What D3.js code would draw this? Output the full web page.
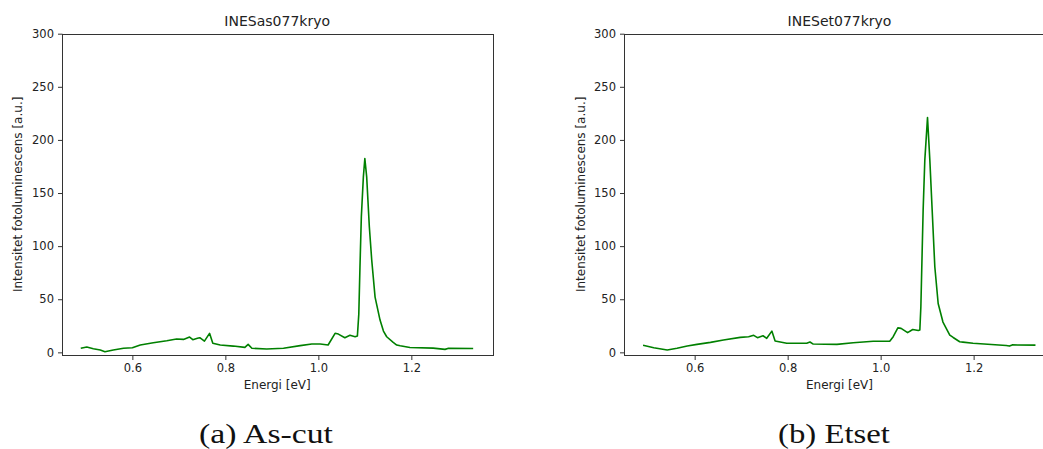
<!DOCTYPE html>
<html>
<head>
<meta charset="utf-8">
<script src="https://cdn.jsdelivr.net/npm/d3@7"></script>
<style>
  html, body { margin: 0; padding: 0; background: #fff; }
  svg { display: block; }
  text { font-family: "DejaVu Sans", sans-serif; fill: #222; }
</style>
</head>
<body>
<svg id="chart" width="1043" height="449"></svg>
<script>
// ---- data ----
const asCutEnergy = [0.489,0.502,0.516,0.531,0.541,0.559,0.581,0.600,0.617,0.645,0.674,0.695,0.710,0.723,0.730,0.740,0.745,0.755,0.766,0.773,0.789,0.817,0.842,0.849,0.857,0.889,0.925,0.961,0.986,1.004,1.021,1.036,1.043,1.057,1.068,1.079,1.084,1.087,1.0895,1.0925,1.0968,1.100,1.104,1.1097,1.1148,1.122,1.1327,1.140,1.147,1.161,1.1686,1.176,1.197,1.247,1.2725,1.280,1.333];
const asCutIntensity = [3.8,5.0,3.4,2.2,0.6,2.2,3.8,4.3,6.9,9.0,10.9,12.5,12.2,14.4,11.9,13.2,13.8,10.6,17.9,8.5,6.9,5.9,4.7,7.5,3.8,3.1,3.8,6.3,7.8,7.8,6.9,17.9,17.2,13.8,16.0,14.7,15.5,36,80,128,165,182.5,165,118,86.9,52,30.4,20,14.7,9.4,6.9,6.2,4.5,4.0,2.8,3.8,3.6];

const etsetEnergy = [0.489,0.512,0.541,0.562,0.584,0.605,0.634,0.662,0.698,0.716,0.727,0.735,0.747,0.755,0.766,0.773,0.798,0.841,0.848,0.855,0.906,0.941,0.984,1.020,1.027,1.037,1.044,1.058,1.069,1.081,1.0843,1.0865,1.088,1.0914,1.095,1.1008,1.1058,1.1108,1.1165,1.1237,1.134,1.1487,1.156,1.170,1.177,1.1987,1.270,1.277,1.283,1.333];
const etsetIntensity = [6.6,4.3,2.2,3.8,5.9,7.5,9.4,11.6,14.1,14.7,16.0,13.8,15.6,13.2,20.0,10.6,8.5,8.5,9.7,7.8,7.5,9.0,10.4,10.6,14.7,23.0,22.6,18.5,21.5,20.5,21,42.9,71,134,181,221,181,134,80.6,46,28.5,16.3,14.0,10,9.6,8.5,6.5,5.9,7.0,6.8];

const xTicks = [0.6, 0.8, 1.0, 1.2];
const yTicks = [0, 50, 100, 150, 200, 250, 300];
const titles = ["INESas077kryo", "INESet077kryo"];
const captions = ["(a) As-cut", "(b) Etset"];
const xLabel = "Energi [eV]";
const yLabel = "Intensitet fotoluminescens [a.u.]";
const xDomain = [0.448, 1.375];
const yDomain = [-2.5, 300];

// ---- drawing ----
const svg = d3.select("#chart");
const plotTop = 33.7, plotBottom = 355, plotWidth = 431;

function panel(left, title, E, I, ylabelX) {
  const g = svg.append("g");
  const x = d3.scaleLinear().domain(xDomain).range([left, left + plotWidth]);
  const y = d3.scaleLinear().domain(yDomain).range([plotBottom, plotTop]);

  const pts = E.map((e, i) => [e, I[i]]);
  g.append("path")
    .datum(pts)
    .attr("fill", "none")
    .attr("stroke", "#008000")
    .attr("stroke-width", 1.6)
    .attr("stroke-linejoin", "round")
    .attr("d", d3.line().x(d => x(d[0])).y(d => y(d[1])));

  g.append("rect")
    .attr("x", Math.round(left) + 0.5).attr("y", Math.round(plotTop) + 0.5)
    .attr("width", Math.round(plotWidth)).attr("height", Math.round(plotBottom - plotTop))
    .attr("fill", "none").attr("stroke", "#333").attr("stroke-width", 1);

  const xAxis = d3.axisBottom(x).tickValues(xTicks).tickFormat(d3.format(".1f")).tickSizeOuter(0).tickSize(4.5).tickPadding(4);
  const gx = g.append("g").attr("transform", `translate(0,${Math.round(plotBottom) + 0.5})`).call(xAxis);
  const yAxis = d3.axisLeft(y).tickValues(yTicks).tickSizeOuter(0).tickSize(4.5).tickPadding(4);
  const gy = g.append("g").attr("transform", `translate(${Math.round(left) + 0.5},0)`).call(yAxis);
  [gx, gy].forEach(a => {
    a.select(".domain").remove();
    a.selectAll(".tick line").attr("stroke", "#333");
    a.selectAll(".tick text").attr("fill", "#222").style("font-size", "11.5px").style("font-family", "DejaVu Sans");
  });

  g.append("text").attr("x", left + plotWidth / 2).attr("y", 25.5)
    .attr("text-anchor", "middle").style("font-size", "14px").text(title);
  g.append("text").attr("x", left + plotWidth / 2).attr("y", 389)
    .attr("text-anchor", "middle").style("font-size", "12px").text(xLabel);
  g.append("text")
    .attr("transform", `translate(${ylabelX},${(plotTop + plotBottom) / 2}) rotate(-90)`)
    .attr("text-anchor", "middle").style("font-size", "12px").text(yLabel);
}

panel(61.7, titles[0], asCutEnergy, asCutIntensity, 22);
panel(624, titles[1], etsetEnergy, etsetIntensity, 584.5);

svg.append("text").attr("x", 199).attr("y", 442.5)
  .attr("textLength", 134).attr("lengthAdjust", "spacingAndGlyphs")
  .style("font-family", "'Liberation Serif', serif").style("font-size", "27px").style("fill", "#111")
  .text(captions[0]);
svg.append("text").attr("x", 778).attr("y", 442.5)
  .attr("textLength", 112).attr("lengthAdjust", "spacingAndGlyphs")
  .style("font-family", "'Liberation Serif', serif").style("font-size", "27px").style("fill", "#111")
  .text(captions[1]);
</script>
</body>
</html>
